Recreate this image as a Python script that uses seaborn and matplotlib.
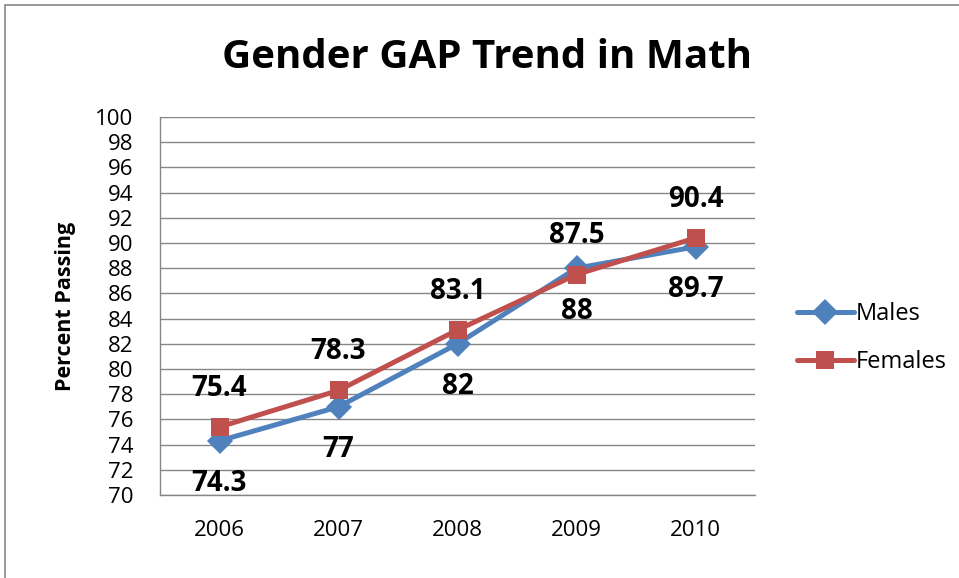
import pandas as pd
import matplotlib
matplotlib.use("Agg")
import matplotlib.pyplot as plt
import seaborn as sns
from matplotlib.patches import Rectangle

years = [2006, 2007, 2008, 2009, 2010]
males = [74.3, 77, 82, 88, 89.7]
females = [75.4, 78.3, 83.1, 87.5, 90.4]
y_ticks = list(range(70, 101, 2))

df = pd.DataFrame({
    'year': years * 2,
    'value': males + females,
    'series': ['Males'] * len(years) + ['Females'] * len(years),
})

sns.set_theme(style="white")
plt.rcParams['font.family'] = ['Open Sans', 'DejaVu Sans']
plt.rcParams['text.color'] = 'black'
plt.rcParams['axes.labelcolor'] = 'black'
plt.rcParams['xtick.labelcolor'] = 'black'
plt.rcParams['ytick.labelcolor'] = 'black'

fig = plt.figure(figsize=(9.59, 5.78), dpi=100)
ax = fig.add_axes([160/959, 1 - 495/578, 595/959, 378/578])

palette = {'Males': '#4F81BD', 'Females': '#C0504D'}
sns.lineplot(data=df, x='year', y='value', hue='series', style='series',
             markers={'Males': 'D', 'Females': 's'}, dashes=False,
             palette=palette, linewidth=3.6, markersize=13,
             markeredgewidth=0, ax=ax)

# data labels: males below, females above
for x, v in zip(years, males):
    ax.annotate(f'{v:g}', (x, v), xytext=(0, -31), textcoords='offset points',
                ha='center', va='center', fontsize=20, fontweight='bold')
for x, v in zip(years, females):
    ax.annotate(f'{v:g}', (x, v), xytext=(0, 28), textcoords='offset points',
                ha='center', va='center', fontsize=20, fontweight='bold')

ax.set_xlim(years[0] - 0.5, years[-1] + 0.5)
ax.set_ylim(70, 100)
ax.set_yticks(y_ticks)
ax.set_xticks(years)
ax.set_xticks([y - 0.5 for y in years] + [years[-1] + 0.5], minor=True)
ax.tick_params(axis='x', which='major', length=0, pad=18, labelsize=16)
ax.tick_params(axis='x', which='minor', length=6, color='#868686', width=1)
ax.tick_params(axis='y', length=6, color='#868686', width=1, labelsize=16, pad=13)
ax.yaxis.grid(True, color='#868686', linewidth=1)
ax.xaxis.grid(False)
for side in ['top', 'right']:
    ax.spines[side].set_visible(False)
for side in ['left', 'bottom']:
    ax.spines[side].set_color('#868686')
    ax.spines[side].set_linewidth(1)

ax.set_xlabel('')
ax.set_ylabel('Percent Passing', fontsize=15.5, fontweight='bold', labelpad=14)

fig.text(487/959, 1 - 58/578, 'Gender GAP Trend in Math', ha='center', va='center',
         fontsize=29, fontweight='bold')

leg = ax.legend(title=None, loc='center left', bbox_to_anchor=(1.035, 0.415),
                frameon=False, fontsize=17, handlelength=2.4, handletextpad=0.1,
                labelspacing=1.0)

fig.patches.append(Rectangle((5/959, -0.05), 1.2, 1 - 5/578 + 0.05,
                             transform=fig.transFigure, fill=False,
                             edgecolor='#868686', linewidth=1.2))

fig.savefig('out.png', dpi=100)
